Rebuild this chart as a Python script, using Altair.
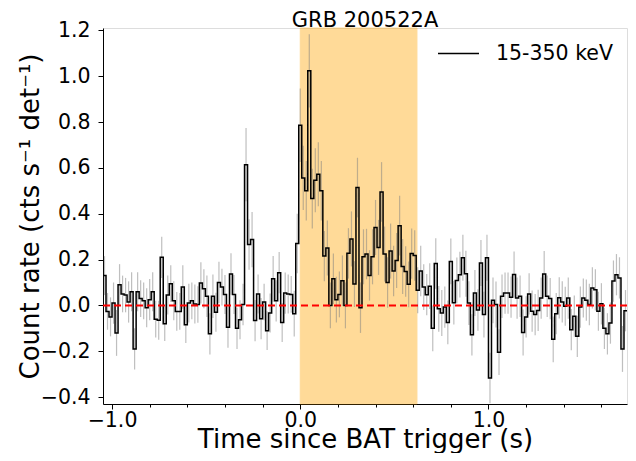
import altair as alt
import pandas as pd

# ---- data ----
BIN_START = -1.04      # centre of first 16 ms bin (s)
BIN_WIDTH = 0.016      # s
T90 = [0.0, 0.62]      # shaded interval (s)
SERIES = "15-350 keV"

rate_a = [0.13, -0.026, -0.05, 0.01, -0.12, 0.09, 0.05, 0.045, 0.015, 0.06, -0.19, 0.06, 0.03,
          0.02, -0.01, 0.025, 0.06, -0.06, -0.065, 0.21, -0.08, 0.045, 0.095, 0.02, -0.026]
rate_b = [-0.026, 0.08, -0.084, 0.01, 0.02, 0.006, 0.004, 0.098, 0.073, 0.04, -0.124, 0.04,
          -0.03, 0.10, 0.08, 0.048, -0.095, 0.137, 0.048, -0.10, -0.063, 0.004]
rate_c = [0.614, 0.266, 0.287]
rate_d = [-0.066, 0.05, -0.058, 0.015, -0.11, -0.033, 0.116, 0.02, 0.143, -0.075, 0.054, 0.05,
          0.048, -0.036, 0.27]
rate_e = [0.786, 0.556, 0.50, 1.023, 0.466, 0.546, 0.572, 0.50, 0.215, 0.25, 0.0, 0.116, 0.025,
          0.048, 0.108, 0.0, 0.227, 0.29, 0.093, 0.514, -0.01, 0.212, 0.224, 0.131, 0.212, 0.34,
          0.253, 0.495, 0.224, 0.10, 0.237, 0.15, 0.196, 0.348]
rate_f = [0.17, 0.148, 0.092, 0.226, 0.218, 0.066, 0.15, 0.08, 0.047, 0.084, -0.10, 0.183,
          -0.015, -0.033, -0.007, -0.074, 0.192, 0.012, 0.109, 0.134, 0.208, 0.138, 0.01,
          -0.128, 0.054, -0.02]
rate_g = [0.185, -0.04, 0.208, -0.317, 0.022, 0.004, -0.204, 0.04, 0.054, 0.054, 0.036, 0.135,
          0.032, 0.04, -0.118, -0.05, 0.05, -0.025, -0.04, -0.022, 0.032, 0.137, 0.04, 0.03,
          -0.148]
rate_h = [-0.036, 0.033, 0.015, -0.004, 0.032, -0.106, -0.047, -0.135, -0.007, 0.032, 0.023,
          0.004, 0.076, 0.068, -0.025, 0.007, -0.10, -0.124, -0.077, 0.106, 0.134, 0.12, -0.19,
          -0.023]

err_a = [0.085, 0.08, 0.085, 0.09, 0.1, 0.09, 0.08, 0.075, 0.09, 0.085, 0.09, 0.085, 0.08, 0.08,
         0.085, 0.09, 0.085, 0.08, 0.085, 0.09, 0.075, 0.085, 0.08, 0.085, 0.085]
err_b = [0.08, 0.095, 0.08, 0.085, 0.08, 0.085, 0.08, 0.09, 0.085, 0.09, 0.09, 0.095, 0.085,
         0.09, 0.08, 0.085, 0.09, 0.09, 0.085, 0.09, 0.085, 0.09]
err_c = [0.16, 0.11, 0.12]
err_d = [0.09, 0.085, 0.09, 0.08, 0.085, 0.085, 0.1, 0.09, 0.09, 0.085, 0.09, 0.085, 0.08, 0.1,
         0.13]
err_e = [0.16, 0.14, 0.13, 0.16, 0.13, 0.14, 0.14, 0.13, 0.11, 0.12, 0.1, 0.11, 0.1, 0.1, 0.11,
         0.1, 0.11, 0.12, 0.1, 0.13, 0.11, 0.12, 0.11, 0.11, 0.12, 0.12, 0.12, 0.13, 0.12, 0.11,
         0.12, 0.11, 0.12, 0.13]
err_f = [0.12, 0.11, 0.1, 0.11, 0.11, 0.1, 0.11, 0.1, 0.09, 0.1, 0.1, 0.11, 0.1, 0.1, 0.09,
         0.095, 0.1, 0.095, 0.1, 0.1, 0.1, 0.1, 0.095, 0.09, 0.1, 0.09]
err_g = [0.1, 0.1, 0.1, 0.11, 0.1, 0.1, 0.1, 0.095, 0.09, 0.09, 0.09, 0.1, 0.09, 0.09, 0.1, 0.09,
         0.09, 0.09, 0.09, 0.09, 0.09, 0.1, 0.09, 0.09, 0.1]
err_h = [0.09, 0.09, 0.09, 0.085, 0.09, 0.09, 0.09, 0.09, 0.09, 0.085, 0.09, 0.09, 0.09, 0.09,
         0.085, 0.09, 0.09, 0.09, 0.09, 0.09, 0.09, 0.09, 0.1, 0.09]

rate = rate_a + rate_b + rate_c + rate_d + rate_e + rate_f + rate_g + rate_h
err = err_a + err_b + err_c + err_d + err_e + err_f + err_g + err_h
assert len(rate) == len(err), (len(rate), len(err))

times = [round(BIN_START + BIN_WIDTH * i, 3) for i in range(len(rate))]

X_DOMAIN = [round(times[0] - BIN_WIDTH / 2, 3), round(times[-1] + BIN_WIDTH / 2, 3)]
Y_DOMAIN = [-0.43, 1.21]

x_ticks = [round(-1.0 + 0.1 * i, 1) + 0.0 for i in range(28)]
y_ticks = [round(-0.4 + 0.05 * i, 2) + 0.0 for i in range(33)]

# ---- tables ----
step_rows = []
for i, (tc, v) in enumerate(zip(times, rate)):
    step_rows.append({"x": tc - BIN_WIDTH / 2, "y": v, "o": 2 * i, "series": SERIES})
    step_rows.append({"x": tc + BIN_WIDTH / 2, "y": v, "o": 2 * i + 1, "series": SERIES})
step_df = pd.DataFrame(step_rows)
err_df = pd.DataFrame({"t": times, "lo": [v - e for v, e in zip(rate, err)],
                       "hi": [v + e for v, e in zip(rate, err)]})
shade_df = pd.DataFrame({"start": [T90[0]], "end": [T90[1]]})
zero_df = pd.DataFrame({"y": [0.0]})

FONT = "DejaVu Sans"
TICK_FS = 20.5
TITLE_FS = 26
xscale = alt.Scale(domain=X_DOMAIN, nice=False, zero=False)
yscale = alt.Scale(domain=Y_DOMAIN, nice=False, zero=False)

x_major = "abs(datum.value*2 - round(datum.value*2)) < 1e-6"
y_major = "abs(datum.value*5 - round(datum.value*5)) < 1e-6"

x_axis = alt.Axis(
    values=x_ticks, labelExpr=f"{x_major} ? format(datum.value, '.1f') : ''",
    tickSize={"condition": {"test": x_major, "value": 5}, "value": 3},
    title="Time since BAT trigger (s)", titleFontSize=TITLE_FS, titleFont=FONT,
    titleFontWeight="normal", titleColor="black", titleY=43, titleBaseline="alphabetic",
    labelFont=FONT, labelFontSize=TICK_FS, labelColor="black", labelPadding=1,
    labelFlush=False, labelOverlap=False, labelBound=False, grid=False,
    domainColor="black", tickColor="black", tickWidth=1, domainWidth=1)
y_axis = alt.Axis(
    values=y_ticks, labelExpr=f"{y_major} ? format(datum.value, '.1f') : ''",
    tickSize={"condition": {"test": y_major, "value": 5}, "value": 3},
    title="Count rate (cts s⁻¹ det⁻¹)", titleFontSize=TITLE_FS, titleFont=FONT,
    titleFontWeight="normal", titleColor="black", titleX=-65, titleBaseline="alphabetic",
    labelFont=FONT, labelFontSize=TICK_FS, labelColor="black", labelPadding=8,
    labelFlush=False, labelOverlap=False, labelBound=False, grid=False,
    domainColor="black", tickColor="black", tickWidth=1, domainWidth=1)

shade = alt.Chart(shade_df).mark_rect(
    color="#FFA500", opacity=0.4, stroke="#FFA500", strokeWidth=1
).encode(
    x=alt.X("start:Q", scale=xscale, axis=x_axis),
    x2="end:Q",
)

bars = alt.Chart(err_df).mark_rule(color="gray", opacity=0.5, strokeWidth=1.2, clip=True).encode(
    x=alt.X("t:Q", scale=xscale),
    y=alt.Y("lo:Q", scale=yscale, axis=y_axis),
    y2="hi:Q",
)

step = alt.Chart(step_df).mark_line(strokeWidth=1.5, clip=True).encode(
    x=alt.X("x:Q", scale=xscale),
    y=alt.Y("y:Q", scale=yscale),
    order="o:Q",
    color=alt.Color("series:N", scale=alt.Scale(domain=[SERIES], range=["black"]),
                    legend=alt.Legend(title=None, orient="none", legendX=334, legendY=4,
                                      symbolType="stroke", symbolSize=1681,
                                      symbolStrokeWidth=1.5, labelFont=FONT,
                                      labelFontSize=TICK_FS, labelColor="black",
                                      labelOffset=16, padding=0)),
)

zero = alt.Chart(zero_df).mark_rule(color="red", strokeWidth=2, strokeDash=[7, 4]).encode(
    y=alt.Y("y:Q", scale=yscale),
)

chart = alt.layer(shade, bars, step, zero).properties(
    width=524, height=376,
    title=alt.Title("GRB 200522A", fontSize=21, font=FONT, fontWeight="normal",
                    color="black", anchor="middle", frame="group", offset=4, dy=15),
    padding={"left": 95, "top": 20, "right": 1, "bottom": 49},
    autosize=alt.AutoSizeParams(type="none"),
).configure_view(stroke="black", strokeWidth=1).configure(background="white")

chart.save("out.html", embed_options={"renderer": "svg", "actions": False})
